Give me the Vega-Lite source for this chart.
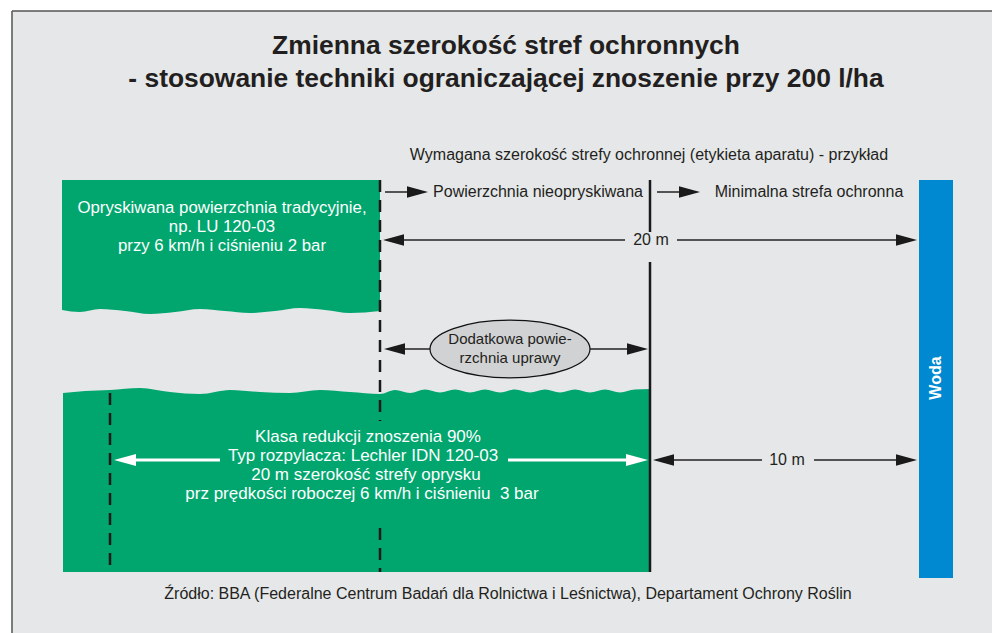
{
  "$schema": "https://vega.github.io/schema/vega-lite/v6.json",
  "width": 992,
  "height": 633,
  "autosize": {"type": "none"},
  "padding": 0,
  "background": "#ffffff",
  "config": {"view": {"stroke": null}},
  "encoding": {
    "x": {"field": "x", "type": "quantitative", "axis": null, "scale": {"domain": [0, 992], "nice": false, "zero": false}},
    "y": {"field": "y", "type": "quantitative", "axis": null, "scale": {"domain": [0, 633], "nice": false, "zero": false, "reverse": true}}
  },
  "layer": [
    {
      "data": {"values": [{"x": 12, "x2": 992, "y": 11, "y2": 633}]},
      "mark": {"type": "rect", "fill": "#e6e7e9"},
      "encoding": {"x2": {"field": "x2"}, "y2": {"field": "y2"}}
    },
    {
      "data": {"values": [{"x": 12, "x2": 992, "y": 11, "y2": 11}, {"x": 12, "x2": 12, "y": 11, "y2": 633}]},
      "mark": {"type": "rule", "stroke": "#555555", "strokeWidth": 1.5},
      "encoding": {"x2": {"field": "x2"}, "y2": {"field": "y2"}}
    },
    {
      "data": {"values": [
        {"x": 62, "y": 180, "y2": 310}, {"x": 80, "y": 180, "y2": 312}, {"x": 100, "y": 180, "y2": 309},
        {"x": 125, "y": 180, "y2": 311}, {"x": 150, "y": 180, "y2": 314}, {"x": 175, "y": 180, "y2": 312},
        {"x": 200, "y": 180, "y2": 309}, {"x": 225, "y": 180, "y2": 311}, {"x": 250, "y": 180, "y2": 313},
        {"x": 275, "y": 180, "y2": 311}, {"x": 300, "y": 180, "y2": 308}, {"x": 325, "y": 180, "y2": 310},
        {"x": 350, "y": 180, "y2": 313}, {"x": 380, "y": 180, "y2": 311}
      ]},
      "mark": {"type": "area", "fill": "#00a66e", "interpolate": "monotone", "orient": "vertical"},
      "encoding": {"y2": {"field": "y2"}}
    },
    {
      "data": {"values": [
        {"x": 63, "y": 393, "y2": 572}, {"x": 85, "y": 391, "y2": 572}, {"x": 110, "y": 390, "y2": 572},
        {"x": 140, "y": 388, "y2": 572}, {"x": 170, "y": 392, "y2": 572}, {"x": 200, "y": 394, "y2": 572},
        {"x": 230, "y": 390, "y2": 572}, {"x": 260, "y": 392, "y2": 572}, {"x": 290, "y": 393, "y2": 572},
        {"x": 320, "y": 390, "y2": 572}, {"x": 350, "y": 392, "y2": 572}, {"x": 380, "y": 394, "y2": 572},
        {"x": 395, "y": 390, "y2": 572}, {"x": 410, "y": 393, "y2": 572}, {"x": 425, "y": 389.5, "y2": 572},
        {"x": 440, "y": 392.5, "y2": 572}, {"x": 455, "y": 389.5, "y2": 572}, {"x": 470, "y": 392.5, "y2": 572},
        {"x": 485, "y": 389.5, "y2": 572}, {"x": 500, "y": 392.5, "y2": 572}, {"x": 515, "y": 389.5, "y2": 572},
        {"x": 530, "y": 392.5, "y2": 572}, {"x": 545, "y": 389.5, "y2": 572}, {"x": 560, "y": 392.5, "y2": 572},
        {"x": 575, "y": 389.5, "y2": 572}, {"x": 590, "y": 392.5, "y2": 572}, {"x": 605, "y": 389.5, "y2": 572},
        {"x": 620, "y": 392.5, "y2": 572}, {"x": 635, "y": 389.5, "y2": 572}, {"x": 650, "y": 389, "y2": 572}
      ]},
      "mark": {"type": "area", "fill": "#00a66e", "interpolate": "monotone", "orient": "vertical"},
      "encoding": {"y2": {"field": "y2"}}
    },
    {
      "data": {"values": [{"x": 919, "x2": 953, "y": 180, "y2": 578}]},
      "mark": {"type": "rect", "fill": "#0089d0"},
      "encoding": {"x2": {"field": "x2"}, "y2": {"field": "y2"}}
    },
    {
      "data": {"values": [
        {"x": 380, "y": 180, "y2": 421}, {"x": 380, "y": 528, "y2": 572}, {"x": 110, "y": 393, "y2": 572}
      ]},
      "mark": {"type": "rule", "stroke": "#1a1a1a", "strokeWidth": 2.5, "strokeDash": [12, 8]},
      "encoding": {"y2": {"field": "y2"}}
    },
    {
      "data": {"values": [{"x": 650, "y": 180, "y2": 232}, {"x": 650, "y": 262, "y2": 572}]},
      "mark": {"type": "rule", "stroke": "#1a1a1a", "strokeWidth": 2.5},
      "encoding": {"y2": {"field": "y2"}}
    },
    {
      "data": {"values": [
        {"x": 385, "x2": 420, "y": 192}, {"x": 657, "x2": 692, "y": 192},
        {"x": 390, "x2": 625, "y": 240}, {"x": 677, "x2": 910, "y": 240},
        {"x": 390, "x2": 431, "y": 349}, {"x": 589, "x2": 640, "y": 349},
        {"x": 660, "x2": 762, "y": 460}, {"x": 814, "x2": 910, "y": 460}
      ]},
      "mark": {"type": "rule", "stroke": "#222222", "strokeWidth": 1.4},
      "encoding": {"x2": {"field": "x2"}}
    },
    {
      "data": {"values": [{"x": 122, "x2": 220, "y": 460}, {"x": 508, "x2": 640, "y": 460}]},
      "mark": {"type": "rule", "stroke": "#ffffff", "strokeWidth": 3},
      "encoding": {"x2": {"field": "x2"}}
    },
    {
      "data": {"values": [
        {"x": 428, "y": 192, "dir": "right"}, {"x": 700, "y": 192, "dir": "right"},
        {"x": 383, "y": 240, "dir": "left"}, {"x": 917, "y": 240, "dir": "right"},
        {"x": 384, "y": 349, "dir": "left"}, {"x": 648, "y": 349, "dir": "right"},
        {"x": 653, "y": 460, "dir": "left"}, {"x": 917, "y": 460, "dir": "right"}
      ]},
      "mark": {"type": "point", "filled": true, "fill": "#1a1a1a", "strokeWidth": 0, "size": 441, "opacity": 1},
      "encoding": {
        "shape": {"field": "dir", "type": "nominal", "legend": null,
          "scale": {"domain": ["right", "left"], "range": ["M0,0 L-2,-0.55 L-2,0.55 Z", "M0,0 L2,-0.55 L2,0.55 Z"]}}
      }
    },
    {
      "data": {"values": [{"x": 114, "y": 460, "dir": "left"}, {"x": 648, "y": 460, "dir": "right"}]},
      "mark": {"type": "point", "filled": true, "fill": "#ffffff", "strokeWidth": 0, "size": 484, "opacity": 1},
      "encoding": {
        "shape": {"field": "dir", "type": "nominal", "legend": null,
          "scale": {"domain": ["right", "left"], "range": ["M0,0 L-2,-0.6 L-2,0.6 Z", "M0,0 L2,-0.6 L2,0.6 Z"]}}
      }
    },
    {
      "data": {"values": [{"x": 510, "y": 349}]},
      "mark": {"type": "point", "shape": "M-1,0 A1,0.36 0 1,0 1,0 A1,0.36 0 1,0 -1,0 Z", "size": 25600, "fill": "#d1d2d4", "filled": true, "stroke": "#111111", "strokeWidth": 1.2, "opacity": 1}
    },
    {
      "data": {"values": [
        {"x": 506, "y": 46, "t": "Zmienna szerokość stref ochronnych"},
        {"x": 506, "y": 79, "t": "- stosowanie techniki ograniczającej znoszenie przy 200 l/ha"}
      ]},
      "mark": {"type": "text", "font": "Liberation Sans", "fontWeight": "bold", "fontSize": 26.4, "fill": "#231f20", "align": "center", "baseline": "middle"},
      "encoding": {"text": {"field": "t"}}
    },
    {
      "data": {"values": [
        {"x": 649, "y": 155, "t": "Wymagana szerokość strefy ochronnej (etykieta aparatu) - przykład"},
        {"x": 538, "y": 192, "t": "Powierzchnia nieopryskiwana"},
        {"x": 809, "y": 192, "t": "Minimalna strefa ochronna"},
        {"x": 651, "y": 240, "t": "20 m"},
        {"x": 787, "y": 460, "t": "10 m"},
        {"x": 508, "y": 594, "t": "Źródło: BBA (Federalne Centrum Badań dla Rolnictwa i Leśnictwa), Departament Ochrony Roślin"}
      ]},
      "mark": {"type": "text", "font": "Liberation Sans", "fontSize": 16, "fill": "#231f20", "align": "center", "baseline": "middle"},
      "encoding": {"text": {"field": "t"}}
    },
    {
      "data": {"values": [
        {"x": 510, "y": 339, "t": "Dodatkowa powie-"},
        {"x": 510, "y": 358, "t": "rzchnia uprawy"}
      ]},
      "mark": {"type": "text", "font": "Liberation Sans", "fontSize": 15, "fill": "#231f20", "align": "center", "baseline": "middle"},
      "encoding": {"text": {"field": "t"}}
    },
    {
      "data": {"values": [
        {"x": 222, "y": 208, "t": "Opryskiwana powierzchnia tradycyjnie,"},
        {"x": 222, "y": 227, "t": "np. LU 120-03"},
        {"x": 222, "y": 246, "t": "przy 6 km/h i ciśnieniu 2 bar"}
      ]},
      "mark": {"type": "text", "font": "Liberation Sans", "fontSize": 16.8, "fill": "#ffffff", "align": "center", "baseline": "middle"},
      "encoding": {"text": {"field": "t"}}
    },
    {
      "data": {"values": [
        {"x": 368, "y": 437, "t": "Klasa redukcji znoszenia 90%"},
        {"x": 363, "y": 456, "t": "Typ rozpylacza: Lechler IDN 120-03"},
        {"x": 366, "y": 475, "t": "20 m szerokość strefy oprysku"},
        {"x": 362, "y": 494, "t": "prz prędkości roboczej 6 km/h i ciśnieniu\u00a0 3 bar"}
      ]},
      "mark": {"type": "text", "font": "Liberation Sans", "fontSize": 17, "fill": "#ffffff", "align": "center", "baseline": "middle"},
      "encoding": {"text": {"field": "t"}}
    },
    {
      "data": {"values": [{"x": 936, "y": 378, "t": "Woda"}]},
      "mark": {"type": "text", "font": "Liberation Sans", "fontWeight": "bold", "fontSize": 16, "fill": "#ffffff", "align": "center", "baseline": "middle", "angle": 270},
      "encoding": {"text": {"field": "t"}}
    }
  ]
}
